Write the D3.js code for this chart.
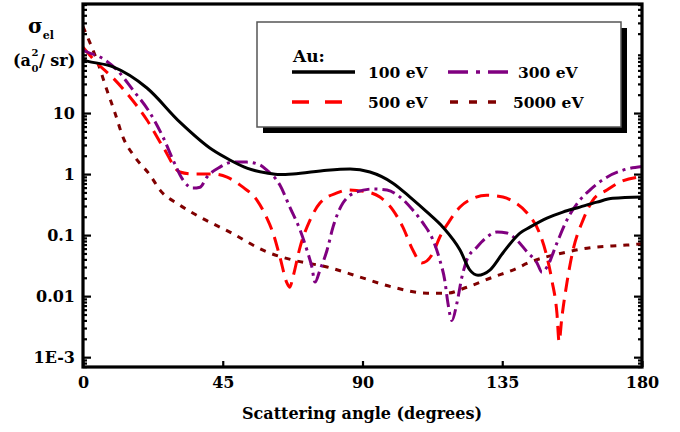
<!DOCTYPE html>
<html>
<head>
<meta charset="utf-8">
<script src="https://cdn.jsdelivr.net/npm/d3@7"></script>
<style>
  html, body { margin: 0; padding: 0; background: #fff; }
  svg { display: block; }
  text { font-family: "DejaVu Serif", serif; font-weight: bold; fill: #000; }
</style>
</head>
<body>
<svg id="chart" width="680" height="432"></svg>
<script>
// Elastic scattering cross sections of Au versus scattering angle
const xTickValues = [0, 45, 90, 135, 180];
const yTickValues = [1e-3, 1e-2, 1e-1, 1, 10];
const yTickLabels = ["1E-3", "0.01", "0.1", "1", "10"];

const angle100 = [0, 1.3, 9.7, 20.6, 31.2, 41.8, 47.3, 52.8, 59.2, 63.4, 67.6, 78.6, 86, 92.4, 99.8, 105.3, 110.8, 115.9, 121.4, 124.6, 127.2, 131, 135.2, 140.7, 143.9, 149.4, 154.5, 160, 165.5, 170.6, 180];
const sigma100 = [74, 71, 57, 25.7, 7.1, 2.47, 1.70, 1.25, 1.04, 0.98, 1.0, 1.16, 1.21, 1.08, 0.71, 0.42, 0.238, 0.135, 0.057, 0.0267, 0.022, 0.0267, 0.051, 0.108, 0.135, 0.19, 0.238, 0.288, 0.347, 0.40, 0.42];

const angle300 = [0, 1.3, 5.5, 10.9, 16.1, 21.6, 25.8, 29, 32.2, 35.4, 37.7, 39.9, 44.1, 48.3, 52.8, 57, 59.2, 63.4, 66.6, 69.9, 72.1, 73.7, 74.7, 76.3, 78.6, 80.5, 83.7, 88.2, 93.4, 97.9, 102.1, 106.2, 109.5, 112.7, 114.9, 116.5, 117.5, 118.8, 120.4, 122, 123.6, 126.9, 130.1, 133.3, 136.5, 139.7, 143, 146.2, 147.8, 149.4, 152.6, 155.8, 160, 163.2, 168.7, 173.9, 180];
const sigma300 = [108, 100, 83, 51, 23.8, 10, 4.0, 1.7, 0.80, 0.59, 0.61, 0.89, 1.30, 1.57, 1.57, 1.41, 1.16, 0.66, 0.288, 0.121, 0.057, 0.030, 0.017, 0.0267, 0.057, 0.135, 0.335, 0.51, 0.57, 0.547, 0.42, 0.257, 0.157, 0.083, 0.039, 0.018, 0.0077, 0.0040, 0.0077, 0.0205, 0.039, 0.064, 0.093, 0.112, 0.108, 0.083, 0.053, 0.035, 0.0247, 0.030, 0.074, 0.176, 0.375, 0.547, 0.89, 1.16, 1.33];

const angle500 = [0, 4.5, 9.7, 15.1, 20.6, 25.8, 31.2, 35.4, 41.9, 46.4, 51.5, 56, 59.2, 61.2, 63.4, 65.7, 66.6, 67.6, 69.9, 73.1, 76.3, 81.8, 85, 91.4, 95.6, 99.8, 103, 106.2, 109.1, 112.7, 114.9, 118.2, 121.4, 125.6, 130, 135.2, 138.4, 143, 147, 149.4, 151, 152.6, 153.3, 154.2, 155.8, 157.8, 161, 164.2, 168.7, 172.9, 180];
const sigma500 = [120, 66, 37.5, 18.3, 7.7, 2.77, 1.08, 1.0, 1.0, 0.89, 0.61, 0.375, 0.19, 0.108, 0.044, 0.0163, 0.014, 0.0205, 0.0636, 0.176, 0.335, 0.49, 0.547, 0.51, 0.42, 0.257, 0.135, 0.057, 0.035, 0.051, 0.093, 0.176, 0.288, 0.40, 0.45, 0.42, 0.36, 0.23, 0.108, 0.044, 0.018, 0.0053, 0.0018, 0.0045, 0.0163, 0.057, 0.176, 0.375, 0.547, 0.74, 0.91];

const angle5000 = [0, 4.8, 7.7, 10.3, 12.9, 16.7, 21.6, 24.8, 31.2, 37.7, 47.3, 59.2, 67.6, 78.6, 89.2, 99.8, 110.8, 117.2, 123.6, 132, 138.4, 143.9, 154.5, 162.3, 175.1, 180];
const sigma5000 = [260, 66, 23.8, 10, 4.0, 1.9, 0.96, 0.547, 0.31, 0.197, 0.112, 0.053, 0.039, 0.030, 0.0205, 0.014, 0.0112, 0.0112, 0.014, 0.0205, 0.0267, 0.036, 0.051, 0.061, 0.0686, 0.072];

const seriesNames = ["100 eV", "300 eV", "500 eV", "5000 eV"];
const seriesColors = ["#000000", "#800080", "#ff0000", "#800000"];

const series = [
  { name: seriesNames[0], color: seriesColors[0], dash: null, x: angle100, y: sigma100 },
  { name: seriesNames[1], color: seriesColors[1], dash: "13,5,3,5", x: angle300, y: sigma300 },
  { name: seriesNames[2], color: seriesColors[2], dash: "14,8", x: angle500, y: sigma500 },
  { name: seriesNames[3], color: seriesColors[3], dash: "6,7", x: angle5000, y: sigma5000 }
];

const svg = d3.select("#chart");
const plotLeft = 83, plotRight = 642, plotTop = 4, plotBottom = 367;
const tickFont = "Liberation Serif, serif";

const x = d3.scaleLinear().domain([0, 180]).range([plotLeft, plotRight]);
const y = d3.scaleLog().domain([6.9e-4, 612]).range([plotBottom, plotTop]);

// clip so curves stay inside the frame
svg.append("defs").append("clipPath").attr("id", "plotClip")
  .append("rect").attr("x", plotLeft).attr("y", plotTop)
  .attr("width", plotRight - plotLeft).attr("height", plotBottom - plotTop);

// minor log ticks
const minorTicks = [];
for (let e = -4; e <= 2; e++) {
  for (let m = 2; m <= 9; m++) {
    const v = m * Math.pow(10, e);
    if (v > y.domain()[0] && v < y.domain()[1]) minorTicks.push(v);
  }
}

function styleAxis(g) {
  g.select(".domain").remove();
  g.selectAll(".tick line").attr("stroke", "#000").attr("stroke-width", 2.2);
}

// left axis: major + minor ticks pointing inward
svg.append("g").attr("transform", `translate(${plotLeft},0)`)
  .call(d3.axisLeft(y).tickValues(minorTicks).tickSize(-4).tickFormat(""))
  .call(styleAxis);
svg.append("g").attr("transform", `translate(${plotLeft},0)`)
  .call(d3.axisLeft(y).tickValues(yTickValues).tickSize(-8).tickPadding(8)
    .tickFormat((d, i) => yTickLabels[i]))
  .call(styleAxis)
  .call(g => g.selectAll(".tick text").attr("font-size", 16)
    .attr("font-family", tickFont).attr("font-weight", "bold").attr("dy", "0.36em"));

// right axis ticks
svg.append("g").attr("transform", `translate(${plotRight},0)`)
  .call(d3.axisRight(y).tickValues(minorTicks).tickSize(-4).tickFormat(""))
  .call(styleAxis);
svg.append("g").attr("transform", `translate(${plotRight},0)`)
  .call(d3.axisRight(y).tickValues(yTickValues).tickSize(-8).tickFormat(""))
  .call(styleAxis);

// bottom axis
svg.append("g").attr("transform", `translate(0,${plotBottom})`)
  .call(d3.axisBottom(x).tickValues(xTickValues).tickSize(-6).tickPadding(10).tickFormat(d3.format("d")))
  .call(styleAxis)
  .call(g => g.selectAll(".tick text").attr("font-size", 16)
    .attr("font-family", tickFont).attr("font-weight", "bold"));

// curves
const line = d3.line()
  .x(d => x(d[0]))
  .y(d => y(d[1]))
  .curve(d3.curveMonotoneX);

const plot = svg.append("g").attr("clip-path", "url(#plotClip)");
series.slice().reverse().forEach(s => {
  const pts = s.x.map((a, i) => [a, s.y[i]]);
  plot.append("path")
    .datum(pts)
    .attr("d", line)
    .attr("fill", "none")
    .attr("stroke", s.color)
    .attr("stroke-width", 3)
    .attr("stroke-dasharray", s.dash)
    .attr("stroke-linejoin", "round");
});

// frame
svg.append("rect")
  .attr("x", plotLeft).attr("y", plotTop)
  .attr("width", plotRight - plotLeft).attr("height", plotBottom - plotTop)
  .attr("fill", "none").attr("stroke", "#000").attr("stroke-width", 3.2);

// legend box with drop shadow
const lg = svg.append("g");
lg.append("rect").attr("x", 263).attr("y", 28).attr("width", 364).attr("height", 105).attr("fill", "#000");
lg.append("rect").attr("x", 257).attr("y", 22).attr("width", 364).attr("height", 105)
  .attr("fill", "#fff").attr("stroke", "#555").attr("stroke-width", 1.5);
lg.append("text").attr("x", 293).attr("y", 62).attr("font-size", 17).text("Au:");

const legendItems = [
  { s: series[0], x1: 292, x2: 355, ly: 72, tx: 368 },
  { s: series[1], x1: 448, x2: 510, ly: 72, tx: 518, dash: "20,8,4,8" },
  { s: series[2], x1: 292, x2: 342, ly: 102, tx: 368, dash: "17,16" },
  { s: series[3], x1: 450, x2: 497, ly: 102, tx: 513, dash: "8,11" }
];
legendItems.forEach(it => {
  lg.append("line")
    .attr("x1", it.x1).attr("x2", it.x2).attr("y1", it.ly).attr("y2", it.ly)
    .attr("stroke", it.s.color).attr("stroke-width", 3.5)
    .attr("stroke-dasharray", it.dash || null);
  lg.append("text").attr("x", it.tx).attr("y", it.ly + 6).attr("font-size", 15.5).text(it.s.name);
});

// x axis title
svg.append("text").attr("x", 362).attr("y", 419).attr("text-anchor", "middle")
  .attr("font-size", 16).text("Scattering angle (degrees)");

// y axis title: sigma_el over (a0^2 / sr)
const t1 = svg.append("text").attr("x", 28).attr("y", 33).attr("font-size", 20);
t1.append("tspan").text("σ");
t1.append("tspan").attr("font-size", 11).attr("dy", 6).text("el");

const unitSize = 16;
const paren = svg.append("text").attr("x", 13).attr("y", 66).attr("font-size", unitSize).text("(a");
const pw = paren.node().getComputedTextLength();
svg.append("text").attr("x", 13 + pw + 0.5).attr("y", 56).attr("font-size", 10).text("2");
svg.append("text").attr("x", 13 + pw + 0.5).attr("y", 72).attr("font-size", 10).text("0");
svg.append("text").attr("x", 13 + pw + 8).attr("y", 66).attr("font-size", unitSize).text("/ sr)");
</script>
</body>
</html>
